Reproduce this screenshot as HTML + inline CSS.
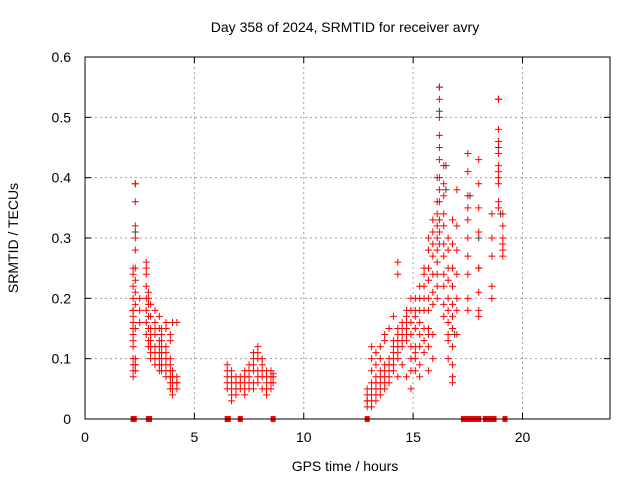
<!DOCTYPE html>
<html><head><meta charset="utf-8"><style>
body{margin:0;background:#fff;}
svg text{font-family:"Liberation Sans",sans-serif;fill:#000;}
</style></head><body>
<svg id="chart" width="640" height="480" xmlns="http://www.w3.org/2000/svg">
<text x="345" y="32" font-size="14" text-anchor="middle">Day 358 of 2024, SRMTID for receiver avry</text>
<text x="345" y="471" font-size="14" text-anchor="middle">GPS time / hours</text>
<text transform="translate(18,238) rotate(-90)" font-size="14" text-anchor="middle">SRMTID / TECUs</text>
<g id="grid"></g>
<g id="axes"></g>
<g id="marks"></g>
<rect x="85" y="57" width="525" height="362" fill="none" stroke="#000" stroke-width="1"/>
</svg>
<script>
const xTicks = [0, 5, 10, 15, 20];
const yTicks = [0, 0.1, 0.2, 0.3, 0.4, 0.5, 0.6];
const yTickLabels = ["0", "0.1", "0.2", "0.3", "0.4", "0.5", "0.6"];
const groupTimes = [2.2,2.3,2.5,2.8,2.9,3.0,3.2,3.4,3.5,3.7,3.9,4.0,4.2,
 6.5,6.7,6.9,7.1,7.3,7.5,7.7,7.9,8.1,8.3,8.5,8.6,
 12.9,13.1,13.3,13.5,13.7,13.9,14.1,14.3,14.5,14.7,14.9,15.1,15.3,15.5,15.7,15.9,16.1,16.2,16.4,16.6,16.8,17.0,17.5,18.0,18.6,18.9,19.1];
const groupValues = [
 [.08,.07,.09,.10,.14,.16,.18,.2,.22,.25,.24,.18,.17,.13,.12,.15],
 [.39,.39,.36,.32,.30,.28,.25,.23,.21,.19,.15,.10,.09,.08],
 [.2,.18,.16],
 [.26,.25,.24,.22,.2,.18,.16,.14],
 [.21,.2,.19,.17,.15,.13,.12],
 [.19,.17,.15,.14,.13,.12,.11,.1],
 [.18,.16,.15,.14,.12,.11,.10,.09],
 [.17,.15,.13,.12,.11,.1,.09,.08],
 [.15,.14,.13,.12,.11,.10,.09,.08],
 [.16,.15,.12,.11,.1,.09,.08,.07],
 [.14,.13,.10,.09,.08,.07,.06,.05],
 [.16,.08,.07,.06,.05,.04],
 [.16,.07,.06,.05,.06],
 [.09,.08,.07,.06,.05],
 [.08,.07,.06,.05,.04,.03],
 [.07,.06,.05,.04],
 [.07,.06,.05],
 [.08,.07,.06,.05,.04],
 [.09,.08,.07,.06,.05],
 [.11,.10,.09,.08,.06,.05],
 [.12,.11,.10,.08,.07,.06],
 [.10,.09,.08,.07,.05],
 [.08,.07,.06,.05,.04],
 [.08,.07,.06,.05],
 [.075,.07,.06],
 [.05,.04,.03,.02,.03],
 [.06,.05,.04,.03,.02,.12,.1,.08],
 [.07,.06,.05,.04,.03,.09,.11],
 [.08,.07,.06,.05,.04,.1,.12],
 [.09,.08,.07,.06,.05,.13,.14],
 [.1,.09,.08,.07,.06,.15],
 [.13,.12,.11,.1,.09,.08,.17],
 [.15,.14,.13,.12,.11,.1,.07,.26,.24],
 [.16,.15,.14,.13,.12,.09],
 [.18,.17,.16,.15,.14,.13,.07],
 [.2,.18,.16,.14,.12,.1,.08,.05],
 [.2,.18,.17,.15,.12,.11,.1,.08],
 [.22,.2,.18,.16,.14,.12,.09,.07],
 [.25,.24,.22,.2,.18,.15,.13,.11],
 [.3,.28,.25,.23,.2,.18,.15,.14,.12,.08],
 [.33,.31,.29,.27,.24,.21,.19,.14,.1],
 [.4,.36,.34,.32,.3,.28,.26,.24,.22,.2],
 [.55,.53,.5,.47,.45,.43,.4,.38,.36,.33,.31,.29],
 [.42,.39,.37,.34,.32,.29,.27,.24,.22,.19,.17],
 [.3,.28,.25,.23,.2,.18,.16,.14,.13,.1],
 [.33,.29,.25,.22,.19,.17,.15,.12,.09,.07,.06],
 [.38,.32,.28,.24,.2,.18,.14],
 [.44,.41,.37,.35,.33,.3,.27,.24,.2,.18],
 [.43,.39,.35,.31,.25,.21,.18,.17],
 [.34,.3,.27,.22,.2],
 [.53,.48,.46,.44,.42,.41,.4,.39,.36,.35],
 [.34,.32,.3,.29,.28,.27]
];
const greyTimes = [2.3,16.2,16.2,16.5,16.5,16.9,17.6,18.0,18.0,18.9,18.9,19.0];
const greyValues = [.31,.55,.51,.42,.38,.14,.37,.25,.3,.53,.45,.34];
const zeroTimes = [2.2,2.25,2.9,2.95,6.5,6.55,7.1,8.6,12.9,17.3,17.4,17.5,17.6,17.7,17.9,18.0,18.3,18.5,18.6,18.7,19.2];

const NS = "http://www.w3.org/2000/svg";
const X0 = 85, X1 = 610, Y0 = 419, Y1 = 57;
function xs(t){ return X0 + (t/24)*(X1-X0); }
function ys(v){ return Y0 - (v/0.6)*(Y0-Y1); }
function mk(tag, attrs, parent){ const e=document.createElementNS(NS,tag); for(const k in attrs) e.setAttribute(k, attrs[k]); parent.appendChild(e); return e; }
const grid=document.getElementById('grid'), axes=document.getElementById('axes'), marks=document.getElementById('marks');

xTicks.forEach(t=>{
  const x=xs(t);
  if(t>0){ const g=mk('line',{x1:x,x2:x,y1:Y1,y2:Y0,stroke:'#a0a0a0','stroke-dasharray':'2,3'},grid);
  
   }
  mk('line',{x1:x,x2:x,y1:Y0,y2:Y0-6,stroke:'#000'},axes);
  mk('line',{x1:x,x2:x,y1:Y1,y2:Y1+6,stroke:'#000'},axes);
  const lb=mk('text',{x:x,y:442,'font-size':14,'text-anchor':'middle'},axes);
  lb.textContent=String(t);
  
  
});
yTicks.forEach((v,i)=>{
  const y=ys(v);
  if(v>0 && v<0.6){ const g=mk('line',{x1:X0,x2:X1,y1:y,y2:y,stroke:'#a0a0a0','stroke-dasharray':'2,3'},grid);
  
   }
  mk('line',{x1:X0,x2:X0+6,y1:y,y2:y,stroke:'#000'},axes);
  mk('line',{x1:X1,x2:X1-6,y1:y,y2:y,stroke:'#000'},axes);
  const lb=mk('text',{x:71,y:y+5,'font-size':14,'text-anchor':'end'},axes);
  lb.textContent=yTickLabels[i];
  
  
});
function plus(t,v,color,name){
  const x=xs(t), y=ys(v);
  const p=mk('path',{d:`M${x-3.5},${y}H${x+3.5}M${x},${y-3.5}V${y+3.5}`,stroke:color,'stroke-width':1,fill:'none'},marks);
  
  
}
greyTimes.forEach((t,i)=>plus(t,greyValues[i],'#404040','grey-point'));
groupTimes.forEach((t,i)=>groupValues[i].forEach(v=>plus(t,v,'#ff0000','srmtid-point')));
zeroTimes.forEach(t=>{
  const r=mk('rect',{x:xs(t)-2.5,y:Y0-3,width:5,height:6,fill:'#ff0000'},marks);
  
  
});
</script>
</body></html>
